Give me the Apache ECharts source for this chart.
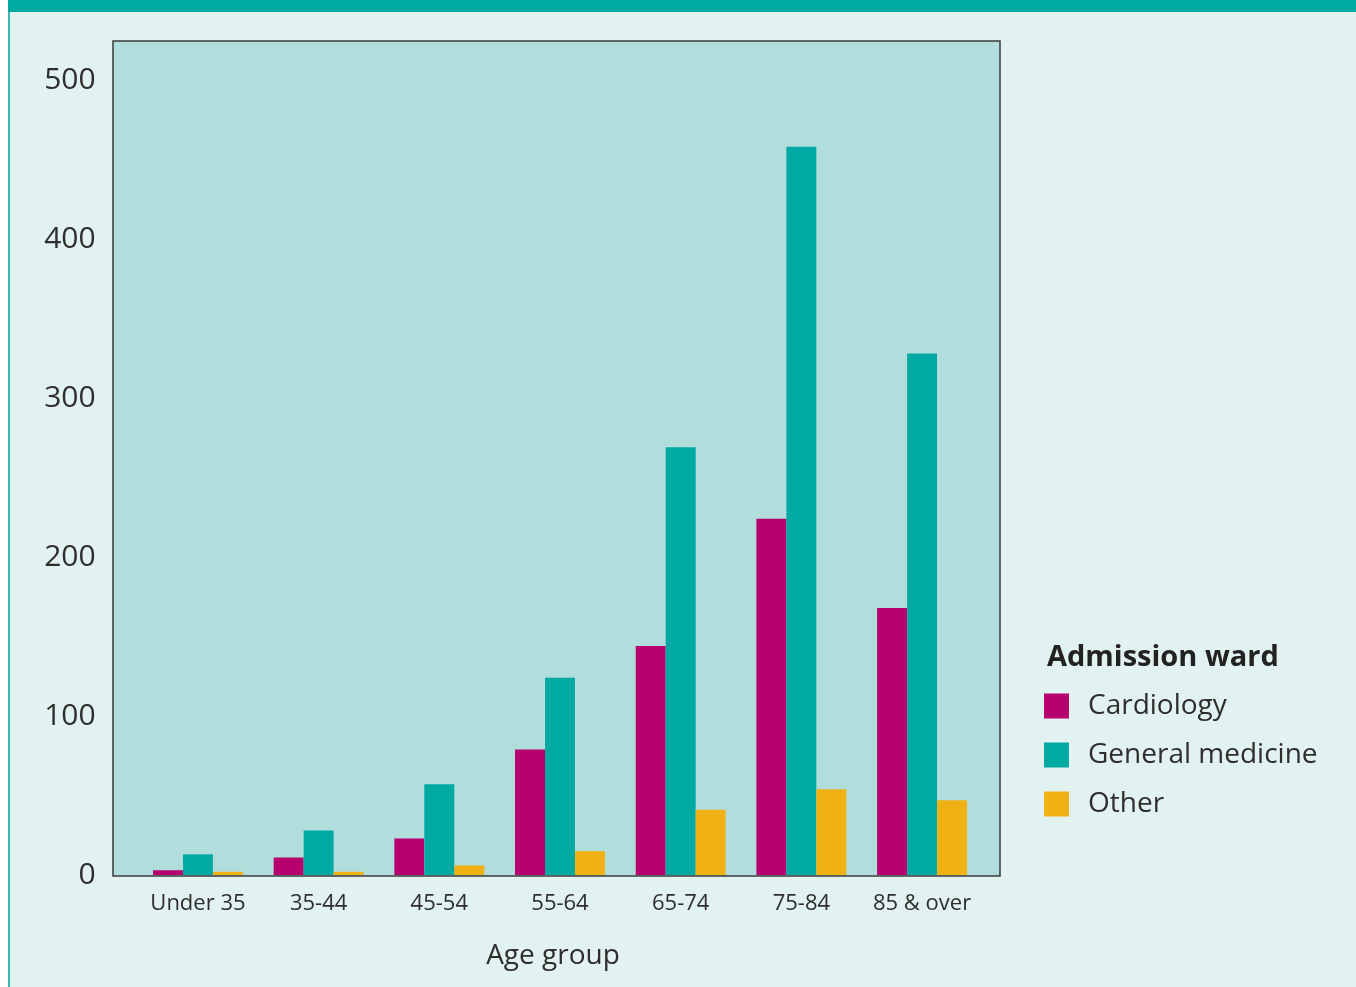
<!DOCTYPE html>
<html>
<head>
<meta charset="utf-8">
<script src="https://cdn.jsdelivr.net/npm/echarts@6/dist/echarts.min.js"></script>
<style>
  html, body { margin: 0; padding: 0; background: #ffffff; }
  #chart { width: 1356px; height: 987px; }
</style>
</head>
<body>
<div id="chart"></div>
<script>
const ageGroups = ['Under 35', '35-44', '45-54', '55-64', '65-74', '75-84', '85 & over']
const cardiology = [3, 11, 23, 79, 144, 224, 168]
const generalMedicine = [13, 28, 57, 124, 269, 458, 328]
const other = [2, 2, 6, 15, 41, 54, 47]
const yTicks = [0, 100, 200, 300, 400, 500]

const chart = echarts.init(document.getElementById('chart'))

const fontFamily = '"Open Sans", "Noto Sans", sans-serif'
const textColor = '#2e2e2e'

const barSeries = (name, data, color) => ({
  name,
  type: 'bar',
  data,
  barGap: '0%',
  barCategoryGap: '25.5%',
  itemStyle: { color },
  emphasis: { disabled: true }
})

const option = {
  backgroundColor: '#e2f2f0',
  animation: false,
  grid: {
    left: 137.6,
    right: 373.6,
    top: 80,
    bottom: 112
  },
  graphic: [
    // left white margin and teal frame line
    { type: 'rect', z: -10, shape: { x: 0, y: 0, width: 8, height: 987 }, style: { fill: '#ffffff' } },
    { type: 'rect', z: -10, shape: { x: 8, y: 0, width: 2, height: 987 }, style: { fill: '#3cbab2' } },
    { type: 'rect', z: -10, shape: { x: 8, y: 0, width: 1348, height: 12 }, style: { fill: '#00a9a2' } },
    // plot panel
    {
      type: 'rect', z: -5,
      shape: { x: 113, y: 41, width: 887, height: 835 },
      style: { fill: '#b1dedc', stroke: '#3a3a3a', lineWidth: 1.5 }
    },
    {
      type: 'text',
      style: {
        text: 'Age group', x: 553, y: 956,
        align: 'center', verticalAlign: 'middle',
        font: '28px ' + fontFamily, fill: textColor
      }
    },
    {
      type: 'text',
      style: {
        text: 'Admission ward', x: 1047, y: 658,
        align: 'left', verticalAlign: 'middle',
        font: 'bold 29px ' + fontFamily, fill: '#222222'
      }
    }
  ],
  legend: {
    orient: 'vertical',
    left: 1044,
    top: 692,
    padding: 0,
    itemWidth: 25,
    itemHeight: 25,
    itemGap: 21,
    icon: 'rect',
    selectedMode: false,
    data: ['Cardiology', 'General medicine', 'Other'],
    textStyle: {
      fontFamily,
      fontSize: 28,
      lineHeight: 25,
      color: textColor,
      padding: [0, 0, 0, 14]
    }
  },
  xAxis: {
    type: 'category',
    data: ageGroups,
    axisLine: { show: false },
    axisTick: { show: false },
    axisLabel: {
      interval: 0,
      margin: 18,
      fontFamily,
      fontSize: 22,
      color: textColor
    }
  },
  yAxis: {
    type: 'value',
    min: yTicks[0],
    max: yTicks[yTicks.length - 1],
    interval: 100,
    splitLine: { show: false },
    axisLine: { show: false },
    axisTick: { show: false },
    axisLabel: {
      margin: 42,
      fontFamily,
      fontSize: 30,
      color: textColor
    }
  },
  series: [
    barSeries('Cardiology', cardiology, '#b5006e'),
    barSeries('General medicine', generalMedicine, '#00a9a2'),
    barSeries('Other', other, '#f0b114')
  ]
}

chart.setOption(option)
</script>
</body>
</html>
